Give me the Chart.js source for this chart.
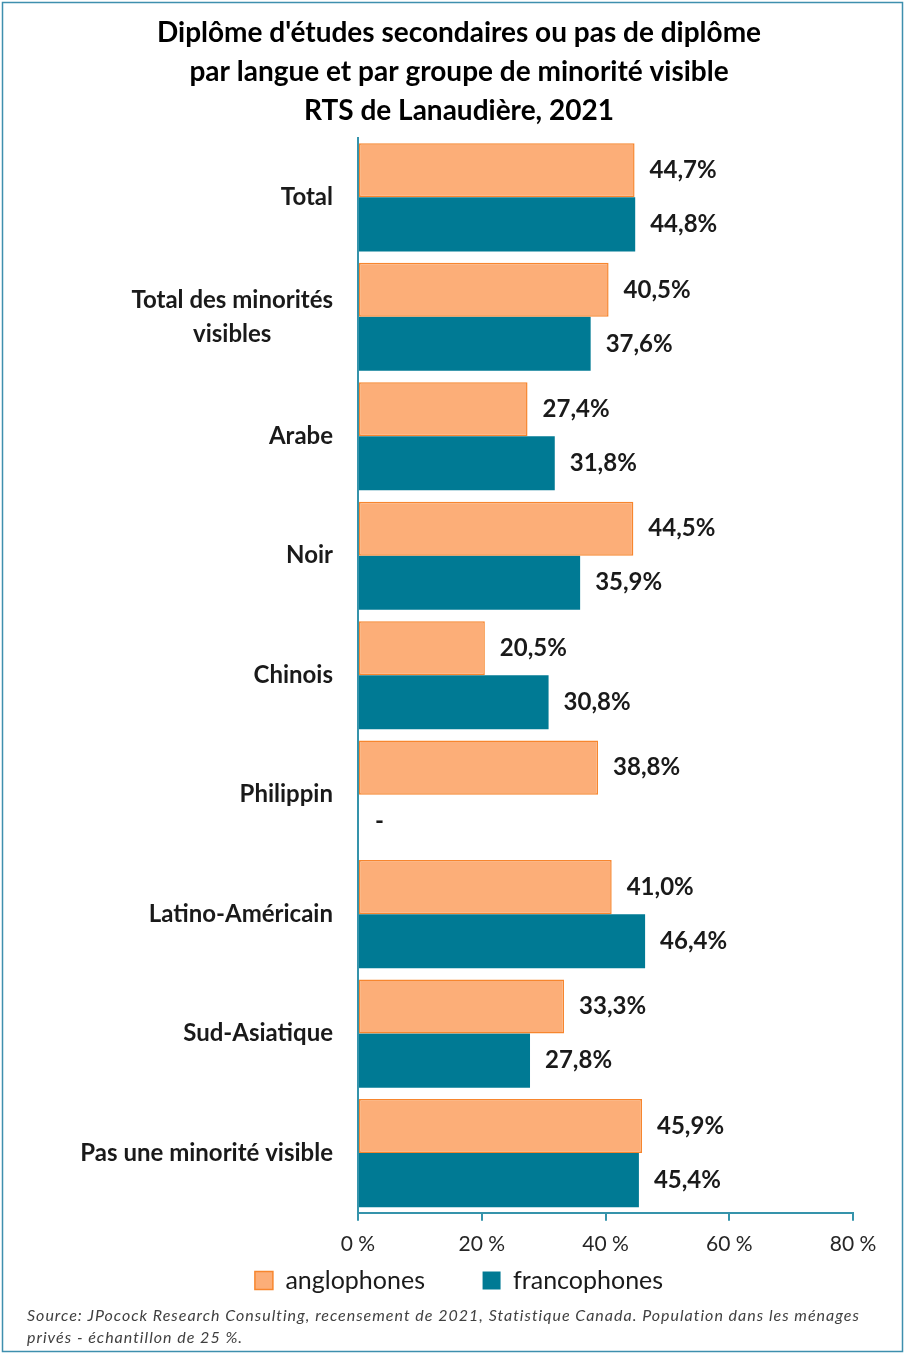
<!DOCTYPE html>
<html>
<head>
<meta charset="utf-8">
<script src="https://cdn.jsdelivr.net/npm/chart.js@4.4.1/dist/chart.umd.min.js"></script>
<style>
  html, body { margin: 0; padding: 0; background: #fff; }
  #wrap { width: 905px; height: 1354px; position: relative; }
</style>
</head>
<body>
<div id="wrap"><canvas id="myChart" width="905" height="1354"></canvas></div>
<script>
const categories = [
  "Total",
  ["Total des minorités", "visibles"],
  "Arabe",
  "Noir",
  "Chinois",
  "Philippin",
  "Latino-Américain",
  "Sud-Asiatique",
  "Pas une minorité visible"
];
const anglophones = [44.7, 40.5, 27.4, 44.5, 20.5, 38.8, 41.0, 33.3, 45.9];
const francophones = [44.8, 37.6, 31.8, 35.9, 30.8, null, 46.4, 27.8, 45.4];
const xTicks = [0, 20, 40, 60, 80];
const sourceLines = [
  "Source: JPocock Research Consulting, recensement de 2021, Statistique Canada. Population dans les ménages",
  "privés - échantillon de 25 %."
];

const FONT = "Lato, 'Open Sans', sans-serif";
const teal = "#007A94";
const axisColor = "#3593AB";

const drawExtras = {
  id: "drawExtras",
  afterDraw(chart) {
    const ctx = chart.ctx;
    const area = chart.chartArea;
    const yScale = chart.scales.y;

    // category labels, right aligned block, lines centered inside
    ctx.save();
    ctx.fillStyle = "#1a1a1a";
    ctx.font = "bold 24px " + FONT;
    ctx.textBaseline = "middle";
    ctx.textAlign = "center";
    categories.forEach((cat, i) => {
      const lines = Array.isArray(cat) ? cat : [cat];
      const w = Math.max(...lines.map(l => ctx.measureText(l).width));
      const cx = area.left - 25 - w / 2;
      const yc = yScale.getPixelForValue(i);
      lines.forEach((l, j) => {
        ctx.fillText(l, cx, yc + (j - (lines.length - 1) / 2) * 34);
      });
    });

    // value labels
    ctx.textAlign = "left";
    chart.data.datasets.forEach((ds, di) => {
      const meta = chart.getDatasetMeta(di);
      meta.data.forEach((bar, i) => {
        const v = ds.data[i];
        if (v === null) {
          ctx.fillText("-", area.left + 17, bar.y);
        } else {
          ctx.fillText(v.toFixed(1).replace(".", ",") + "%", bar.x + 15, bar.y);
        }
      });
    });

    // source note
    ctx.font = "italic 16px " + FONT;
    ctx.letterSpacing = "1px";
    ctx.fillStyle = "#404040";
    sourceLines.forEach((l, j) => ctx.fillText(l, 27, 1316 + j * 22));
    ctx.letterSpacing = "0px";

    // frame
    ctx.strokeStyle = "#3E8FAE";
    ctx.lineWidth = 1.5;
    ctx.strokeRect(2.5, 2.5, 900, 1349);
    ctx.restore();
  }
};

const config = {
  type: "bar",
  data: {
    labels: categories,
    datasets: [
      {
        label: "anglophones",
        data: anglophones,
        backgroundColor: "#FCAE78",
        borderColor: "#F7862E",
        borderWidth: 1.5,
        borderSkipped: false,
        categoryPercentage: 0.905,
        barPercentage: 1
      },
      {
        label: "francophones",
        data: francophones,
        backgroundColor: teal,
        borderWidth: 0,
        categoryPercentage: 0.905,
        barPercentage: 1
      }
    ]
  },
  options: {
    indexAxis: "y",
    responsive: false,
    animation: false,
    layout: { padding: { top: 2, left: 65, right: 52, bottom: 51 } },
    scales: {
      x: {
        min: 0,
        max: 80,
        afterBuildTicks(scale) {
          scale.ticks = xTicks.map(v => ({ value: v }));
        },
        ticks: {
          padding: 11,
          color: "#262626",
          font: { family: FONT, size: 21 },
          callback: v => v + " %"
        },
        grid: {
          drawOnChartArea: false,
          drawTicks: true,
          tickLength: 8,
          color: axisColor,
          lineWidth: 2
        },
        border: { color: axisColor, width: 2 }
      },
      y: {
        ticks: { display: false },
        grid: { display: false },
        border: { color: axisColor, width: 2 },
        afterFit(scale) { scale.width = 293; }
      }
    },
    plugins: {
      title: {
        display: true,
        text: [
          "Diplôme d'études secondaires ou pas de diplôme",
          "par langue et par groupe de minorité visible",
          "RTS de Lanaudière, 2021"
        ],
        color: "#000",
        font: { family: FONT, size: 28, weight: "bold", lineHeight: 1.4 },
        padding: { top: 11, bottom: 7 }
      },
      legend: {
        position: "bottom",
        labels: {
          color: "#1a1a1a",
          font: { family: FONT, size: 25 },
          boxWidth: 18,
          boxHeight: 18,
          padding: 0,
          generateLabels(chart) {
            const items = Chart.defaults.plugins.legend.labels.generateLabels(chart);
            items[0].text = items[0].text + "\u00A0".repeat(9);
            return items;
          }
        }
      },
      tooltip: { enabled: false }
    }
  },
  plugins: [drawExtras]
};

const myChart = new Chart(document.getElementById("myChart"), config);
</script>
</body>
</html>
